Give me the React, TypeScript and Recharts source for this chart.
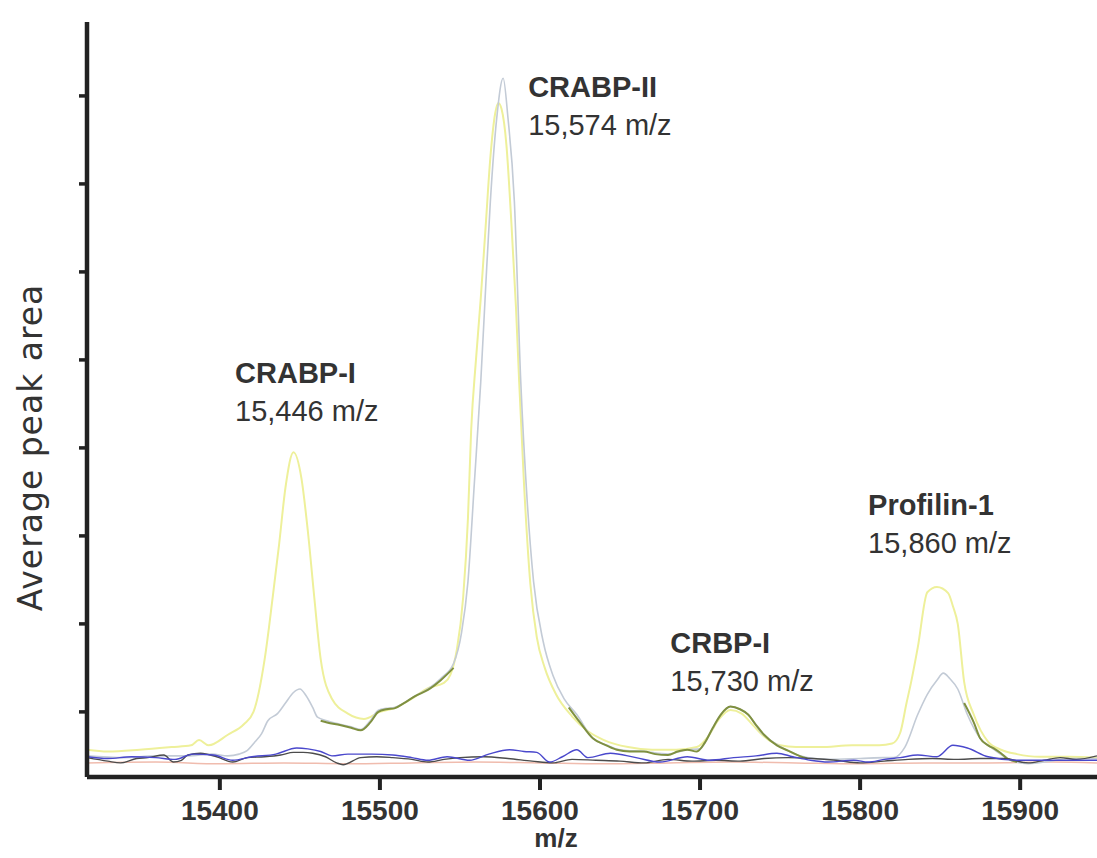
import { LineChart, Line, XAxis, YAxis, ReferenceDot } from 'recharts';

// spectra, m/z vs average peak area (arbitrary units, axis ticks at 1..8)
const yellowMz = [15317, 15330, 15350, 15370, 15382, 15387, 15393, 15405, 15415, 15421, 15428, 15433, 15437, 15441, 15446, 15451, 15455, 15459, 15463, 15470, 15480, 15490, 15500, 15510, 15520, 15530, 15540, 15544, 15548, 15552, 15555, 15557, 15560, 15563, 15566, 15569, 15572, 15574, 15576, 15579, 15582, 15585, 15587, 15590, 15594, 15598, 15603, 15610, 15620, 15630, 15640, 15655, 15670, 15685, 15698, 15705, 15712, 15719, 15726, 15733, 15740, 15750, 15760, 15775, 15795, 15812, 15820, 15825, 15829, 15832, 15836, 15842, 15848, 15855, 15858, 15861, 15865, 15871, 15880, 15888, 15898, 15912, 15930, 15948];
const yellowArea = [0.57, 0.55, 0.57, 0.6, 0.62, 0.68, 0.62, 0.74, 0.86, 1.0, 1.6, 2.3, 2.9, 3.55, 3.95, 3.65, 3.05, 2.3, 1.6, 1.15, 0.98, 0.92, 1.0, 1.05, 1.15, 1.27, 1.33, 1.42, 1.7, 2.3, 3.2, 4.2, 5.0, 5.7, 6.5, 7.3, 7.8, 7.92, 7.85, 7.45, 6.6, 5.6, 4.75, 3.6, 2.45, 1.85, 1.5, 1.2, 0.95, 0.78, 0.68, 0.6, 0.57, 0.57, 0.6, 0.72, 0.92, 1.02, 0.98, 0.85, 0.72, 0.62, 0.6, 0.6, 0.62, 0.62, 0.64, 0.76, 1.1, 1.35, 1.73, 2.36, 2.42, 2.35, 2.2, 2.0, 1.34, 0.97, 0.66, 0.57, 0.52, 0.49, 0.49, 0.48];

const greyMz = [15317, 15340, 15360, 15380, 15395, 15405, 15412, 15417, 15422, 15426, 15430, 15436, 15441, 15446, 15450, 15454, 15458, 15461, 15467, 15475, 15482, 15488, 15494, 15499, 15504, 15509, 15515, 15522, 15530, 15538, 15546, 15551, 15555, 15559, 15563, 15566, 15569, 15573, 15577, 15580, 15584, 15588, 15592, 15596, 15602, 15608, 15615, 15623, 15633, 15642, 15650, 15665, 15680, 15692, 15700, 15706, 15713, 15719, 15725, 15730, 15738, 15748, 15758, 15767, 15780, 15800, 15815, 15821, 15828, 15836, 15842, 15848, 15852, 15856, 15861, 15867, 15875, 15883, 15892, 15905, 15919, 15930, 15948];
const greyArea = [0.5, 0.48, 0.5, 0.5, 0.52, 0.5, 0.52, 0.56, 0.66, 0.75, 0.9, 0.98, 1.1, 1.22, 1.26, 1.18, 1.05, 0.94, 0.9, 0.86, 0.83, 0.8, 0.9, 1.02, 1.04, 1.05, 1.1, 1.18, 1.26, 1.38, 1.55, 1.9, 2.48, 3.6, 4.75, 5.8, 6.8, 7.75, 8.2, 7.75, 6.8, 4.75, 3.4, 2.48, 1.8, 1.42, 1.15, 0.97, 0.7, 0.62, 0.57, 0.55, 0.52, 0.57, 0.58, 0.75, 0.97, 1.06, 1.03, 0.97, 0.77, 0.63, 0.53, 0.48, 0.46, 0.47, 0.48, 0.48, 0.6, 0.97, 1.2, 1.36, 1.44, 1.38, 1.26, 0.97, 0.7, 0.58, 0.47, 0.41, 0.44, 0.47, 0.47];

const greenMz = [15463, 15467, 15475, 15482, 15488, 15494, 15499, 15504, 15509, 15515, 15522, 15530, 15538, 15546, 15580, 15618, 15625, 15633, 15640, 15648, 15656, 15665, 15672, 15680, 15686, 15692, 15698, 15703, 15708, 15713, 15719, 15725, 15730, 15735, 15740, 15748, 15755, 15762, 15767, 15800, 15865, 15871, 15875, 15880, 15884, 15888, 15892, 15898];
const greenArea = [0.9, 0.88, 0.85, 0.82, 0.79, 0.88, 1.0, 1.03, 1.04, 1.1, 1.18, 1.25, 1.36, 1.5, null, 1.05, 0.88, 0.7, 0.63, 0.57, 0.55, 0.55, 0.52, 0.51, 0.55, 0.57, 0.55, 0.65, 0.82, 0.97, 1.06, 1.03, 0.97, 0.85, 0.74, 0.62, 0.56, 0.5, 0.47, null, 1.1, 0.88, 0.7, 0.62, 0.58, 0.53, 0.47, 0.43];

const darkMz = [15317, 15330, 15338, 15348, 15355, 15365, 15371, 15376, 15380, 15388, 15398, 15408, 15417, 15428, 15438, 15446, 15452, 15458, 15466, 15473, 15477, 15488, 15498, 15508, 15520, 15530, 15540, 15550, 15565, 15580, 15595, 15608, 15620, 15635, 15650, 15665, 15680, 15695, 15710, 15725, 15740, 15755, 15770, 15785, 15800, 15815, 15830, 15845, 15860, 15875, 15890, 15905, 15915, 15925, 15935, 15948];
const darkArea = [0.48, 0.44, 0.42, 0.47, 0.48, 0.51, 0.43, 0.45, 0.51, 0.53, 0.49, 0.43, 0.48, 0.49, 0.51, 0.54, 0.54, 0.53, 0.49, 0.42, 0.4, 0.48, 0.49, 0.48, 0.46, 0.43, 0.46, 0.48, 0.49, 0.47, 0.44, 0.42, 0.46, 0.45, 0.44, 0.42, 0.46, 0.44, 0.45, 0.44, 0.47, 0.48, 0.47, 0.45, 0.42, 0.44, 0.46, 0.47, 0.46, 0.47, 0.47, 0.42, 0.45, 0.48, 0.46, 0.5];

const blueMz = [15317, 15330, 15345, 15360, 15372, 15383, 15396, 15408, 15420, 15435, 15448, 15455, 15463, 15470, 15480, 15495, 15508, 15520, 15530, 15542, 15556, 15568, 15581, 15590, 15598, 15606, 15614, 15623, 15630, 15644, 15660, 15675, 15692, 15706, 15721, 15735, 15748, 15758, 15769, 15780, 15796, 15805, 15815, 15825, 15836, 15848, 15858, 15867, 15880, 15898, 15919, 15948];
const blueArea = [0.49, 0.47, 0.49, 0.48, 0.46, 0.52, 0.51, 0.45, 0.49, 0.52, 0.59, 0.58, 0.55, 0.5, 0.52, 0.52, 0.51, 0.48, 0.45, 0.49, 0.45, 0.52, 0.57, 0.55, 0.54, 0.43, 0.49, 0.57, 0.48, 0.53, 0.48, 0.43, 0.49, 0.45, 0.48, 0.5, 0.53, 0.49, 0.45, 0.43, 0.45, 0.43, 0.46, 0.48, 0.51, 0.49, 0.62, 0.59, 0.49, 0.45, 0.45, 0.45];

const pinkMz = [15317, 15360, 15400, 15440, 15480, 15520, 15560, 15600, 15640, 15680, 15720, 15760, 15800, 15840, 15880, 15920, 15948];
const pinkArea = [0.42, 0.43, 0.41, 0.42, 0.41, 0.42, 0.43, 0.42, 0.41, 0.42, 0.43, 0.42, 0.41, 0.42, 0.42, 0.43, 0.42];

const xTicks = [15400, 15500, 15600, 15700, 15800, 15900];
const yTicks = [1, 2, 3, 4, 5, 6, 7, 8];

const peakNames = ['CRABP-I', 'CRABP-II', 'CRBP-I', 'Profilin-1'];
const peakLabels = ['15,446 m/z', '15,574 m/z', '15,730 m/z', '15,860 m/z'];
// where each note's text starts (data coords)
const noteAt = [
  { x: 15409.5, y: 4.74 },
  { x: 15592.6, y: 7.99 },
  { x: 15681.4, y: 1.67 },
  { x: 15805, y: 3.24 },
];

const pts = (mz: number[], v: (number | null)[]) => mz.map((m, i) => ({ mz: m, v: v[i] }));

const FONT = '"Liberation Sans", Arial, sans-serif';
const INK = '#333';

const series = [
  { key: 'pink', data: pts(pinkMz, pinkArea), color: '#f0bcae', w: 1.5 },
  { key: 'yellow', data: pts(yellowMz, yellowArea), color: '#eef09a', w: 2 },
  { key: 'grey', data: pts(greyMz, greyArea), color: '#c3cbd6', w: 1.6 },
  { key: 'green', data: pts(greenMz, greenArea), color: '#7f9040', w: 2 },
  { key: 'dark', data: pts(darkMz, darkArea), color: '#4c4c4c', w: 1.4 },
  { key: 'blue', data: pts(blueMz, blueArea), color: '#4a48cc', w: 1.4 },
];

const noteLabel = (name: string, mass: string) => (props: any) => {
  const { x, y } = props.viewBox;
  return (
    <g>
      <text x={x} y={y} fontFamily={FONT} fontSize={29} fontWeight="bold" fill={INK}>{name}</text>
      <text x={x} y={y + 38} fontFamily={FONT} fontSize={29} fill={INK}>{mass}</text>
    </g>
  );
};

const yLabel = (props: any) => {
  const { y, height } = props.viewBox;
  const cx = 30;
  const cy = y + height / 2 + 48;
  return (
    <text
      x={cx}
      y={cy}
      transform={`rotate(-90 ${cx} ${cy})`}
      textAnchor="middle"
      dominantBaseline="central"
      fontFamily='"DejaVu Sans", Verdana, sans-serif'
      fontSize={33}
      letterSpacing={1}
      fill="#333"
    >
      Average peak area
    </text>
  );
};

export default function App() {
  return (
    <div style={{ position: 'absolute', left: 0, top: 0, background: '#fff' }}>
      <LineChart width={1097} height={858} margin={{ top: 22, right: 0, bottom: 0, left: 0 }}>
        <XAxis
          type="number"
          dataKey="mz"
          domain={[15317, 15948]}
          allowDataOverflow
          ticks={xTicks}
          height={81}
          axisLine={{ stroke: '#222', strokeWidth: 4.5 }}
          tickLine={{ stroke: '#222', strokeWidth: 4 }}
          tickSize={13}
          tickMargin={10}
          tick={{ fill: INK, fontFamily: FONT, fontSize: 28, fontWeight: 'bold' }}
          label={{ value: 'm/z', position: 'insideBottom', offset: 11, dx: -36, fill: INK, fontFamily: FONT, fontSize: 26, fontWeight: 'bold' }}
        />
        <YAxis
          type="number"
          domain={[0.26, 8.84]}
          allowDataOverflow
          ticks={yTicks}
          width={87}
          axisLine={{ stroke: '#222', strokeWidth: 4.5 }}
          tickLine={{ stroke: '#222', strokeWidth: 3.5 }}
          tickSize={8}
          tickFormatter={() => ''}
          label={yLabel}
        />
        {series.map((s) => (
          <Line
            key={s.key}
            data={s.data}
            dataKey="v"
            type="monotone"
            stroke={s.color}
            strokeWidth={s.w}
            dot={false}
            activeDot={false}
            connectNulls={false}
            isAnimationActive={false}
          />
        ))}
        {peakNames.map((name, i) => (
          <ReferenceDot
            key={name}
            x={noteAt[i].x}
            y={noteAt[i].y}
            r={0}
            fill="none"
            stroke="none"
            label={noteLabel(name, peakLabels[i])}
          />
        ))}
      </LineChart>
    </div>
  );
}
